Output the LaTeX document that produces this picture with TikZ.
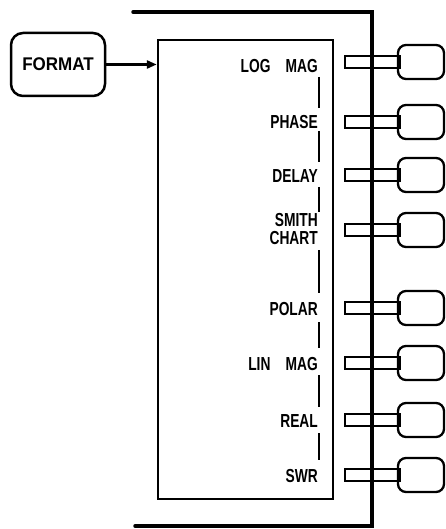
\documentclass[tikz,border=0pt]{standalone}
\usepackage{fontspec}
\setmainfont{Liberation Sans}
\usetikzlibrary{arrows.meta}
\newcommand\tallbox[1]{\scalebox{0.95}[1.3]{#1}}
\begin{document}
\begin{tikzpicture}[x=1pt,y=-1pt,
  lbl/.style={anchor=east,inner sep=0pt,font=\fontsize{14.5}{14.5}\selectfont\bfseries},
  contact/.style={draw,line width=2.3pt,minimum width=55pt,minimum height=12pt,inner sep=0pt},
  knob/.style={draw,line width=2.3pt,rounded corners=8pt,minimum width=46pt,minimum height=34pt,inner sep=0pt},
  sep/.style={line width=2.2pt},
  bus/.style={line width=3.5pt}]
\useasboundingbox (0,0) rectangle (446,529);
% format box and arrow
\node[draw,line width=2.5pt,rounded corners=12pt,minimum width=94pt,minimum height=63pt,inner sep=0pt,
      font=\fontsize{17}{17}\selectfont\bfseries] (fmt) at (58,64.5) {\scalebox{1}[1.08]{FORMAT}};
\node[draw,line width=2.5pt,minimum width=175pt,minimum height=459pt,inner sep=0pt] (box) at (245.5,269.5) {};
\draw[line width=2.5pt,-{Triangle[length=10pt,width=8pt]}] (fmt.east) -- (fmt.east -| box.west);
% bus
\coordinate (tl) at (133,12);
\coordinate (bl) at (135,526);
\coordinate (tr) at (372,12);
\draw[bus,line cap=round] (tl) -- (tr) -- (tr |- bl) -- (bl);
% rows
\foreach \n/\y in {a/62,b/122,c/175,d/230,e/308,f/363,g/420,h/475}{
  \node[contact] (c\n) at (372.5,\y) {};
  \node[knob] (k\n) at (421,\y) {};
}
\node[lbl] (l1) at (318,66) {\tallbox{LOG\hspace{16pt}MAG}};
\node[lbl] (l2) at (318,122) {\tallbox{PHASE}};
\node[lbl] (l3) at (318,176) {\tallbox{DELAY}};
\node[lbl] (l4a) at (318,220) {\tallbox{SMITH}};
\node[lbl] (l4b) at (318,238) {\tallbox{CHART}};
\node[lbl] (l5) at (318,309) {\tallbox{POLAR}};
\node[lbl] (l6) at (318,364) {\tallbox{LIN\hspace{16pt}MAG}};
\node[lbl] (l7) at (318,421) {\tallbox{REAL}};
\node[lbl] (l8) at (318,476) {\tallbox{SWR}};
\draw[sep] (319,77) -- (319,108);
\draw[sep] (319,131) -- (319,162);
\draw[sep] (319,187) -- (319,212);
\draw[sep] (319,250) -- (319,293);
\draw[sep] (319,322) -- (319,348);
\draw[sep] (319,375) -- (319,407);
\draw[sep] (319,433) -- (319,460);
\end{tikzpicture}
\end{document}
